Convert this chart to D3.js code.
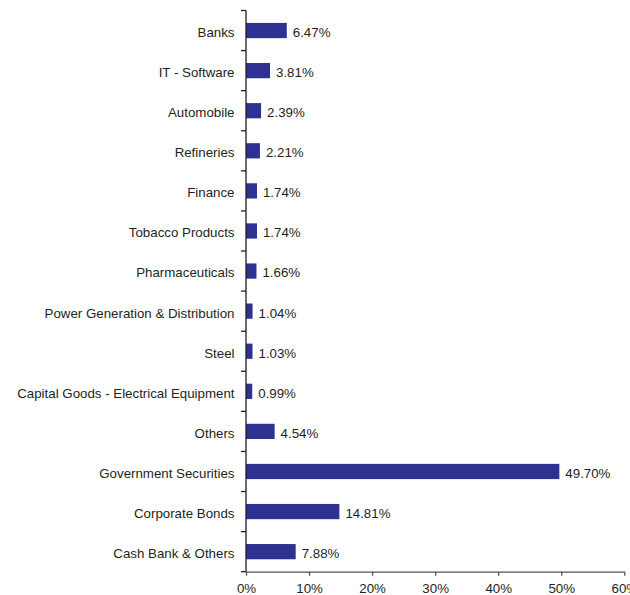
<!DOCTYPE html>
<html><head><meta charset="utf-8">
<script src="https://cdn.jsdelivr.net/npm/d3@7"></script>
<style>body{margin:0;background:#fff;}svg{display:block;}</style>
</head><body>
<svg id="c" width="630" height="595"></svg>
<script>
const categories = ["Banks","IT - Software","Automobile","Refineries","Finance","Tobacco Products","Pharmaceuticals","Power Generation & Distribution","Steel","Capital Goods - Electrical Equipment","Others","Government Securities","Corporate Bonds","Cash Bank & Others"];
const values = [6.47,3.81,2.39,2.21,1.74,1.74,1.66,1.04,1.03,0.99,4.54,49.70,14.81,7.88];
const xTicks = [0,10,20,30,40,50,60];

(function(){
const svg = d3.select("#c");
const pLeft = 246, pRight = 624.3, pTop = 10.5, pBottom = 571.7;
const x = d3.scaleLinear().domain([0,60]).range([pLeft,pRight]);
const y = d3.scaleBand().domain(categories).range([pTop,pBottom]).paddingInner(0.62).paddingOuter(0.31);
const font = "Liberation Sans, Arial, sans-serif";
const textColor = "#231f20";
const axisColor = "#231f20";
const fs = 13.3;

svg.selectAll("rect.bar").data(categories).join("rect")
  .attr("x", x(0)).attr("y", d=>y(d))
  .attr("width", (d,i)=>x(values[i])-x(0)).attr("height", y.bandwidth())
  .attr("fill", "#2e3192");

svg.selectAll("text.val").data(categories).join("text")
  .attr("x", (d,i)=>x(values[i])+6).attr("y", d=>y(d)+y.bandwidth()/2)
  .attr("dy","0.48em").attr("font-family",font).attr("font-size",fs).attr("fill",textColor)
  .text((d,i)=>values[i].toFixed(2)+"%");

svg.selectAll("text.cat").data(categories).join("text")
  .attr("x", pLeft-11.5).attr("y", d=>y(d)+y.bandwidth()/2)
  .attr("dy","0.48em").attr("text-anchor","end").attr("font-family",font).attr("font-size",fs).attr("fill",textColor)
  .text(d=>d);

svg.append("line").attr("x1",pLeft).attr("x2",pLeft).attr("y1",pTop).attr("y2",pBottom).attr("stroke",axisColor).attr("stroke-width",1.3);
const bounds = d3.range(categories.length+1).map(i=>pTop+i*(pBottom-pTop)/categories.length);
svg.selectAll("line.yt").data(bounds).join("line")
  .attr("x1",pLeft-5).attr("x2",pLeft).attr("y1",d=>d).attr("y2",d=>d).attr("stroke",axisColor).attr("stroke-width",1.3);

const xa = svg.append("g").attr("transform",`translate(0,${pBottom})`)
  .call(d3.axisBottom(x).tickValues(xTicks).tickFormat(d=>d+"%").tickSize(4).tickSizeOuter(0));
xa.select(".domain").attr("stroke","#555").attr("stroke-width",1.3);
xa.selectAll(".tick line").attr("stroke","#555").attr("stroke-width",1.3);
xa.selectAll(".tick text").attr("font-family",font).attr("font-size",fs).attr("fill",textColor).attr("dy","1.08em");
})();
</script>
</body></html>
